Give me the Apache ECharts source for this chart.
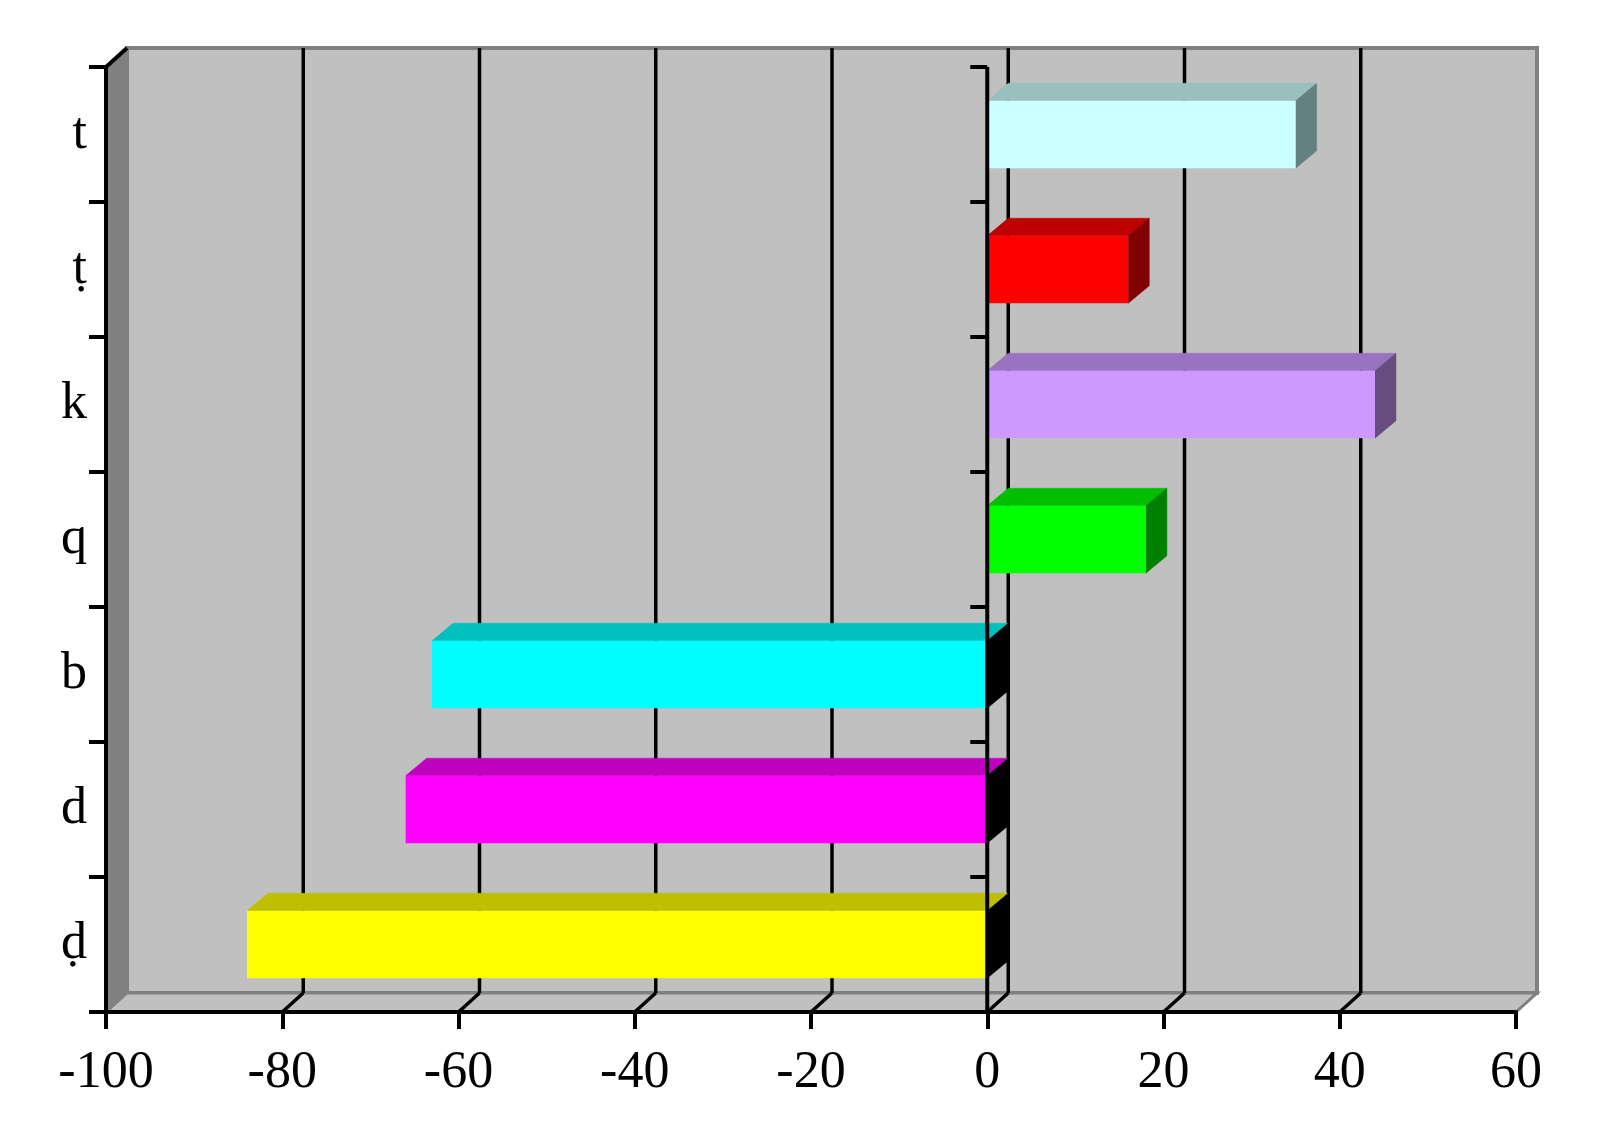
<!DOCTYPE html>
<html>
<head>
<meta charset="utf-8">
<script src="https://cdn.jsdelivr.net/npm/echarts@6/dist/echarts.min.js"></script>
<style>
html,body{margin:0;padding:0;background:#fff;}
#chart{width:1597px;height:1148px;}
</style>
</head>
<body>
<div id="chart"></div>
<script>
// ---- data ----
const categories = ['t', 'ṭ', 'k', 'q', 'b', 'd', 'ḍ'];
const values = [35, 16, 44, 18, -63, -66, -84];
const frontColors = ['#CCFFFF', '#FF0000', '#CC99FF', '#00FF00', '#00FFFF', '#FF00FF', '#FFFF00'];
const xTicks = [-100, -80, -60, -40, -20, 0, 20, 40, 60];

// ---- style constants ----
const DX = 21, DY = -19;      // wall depth offset
const BDX = 21, BDY = -17.5;  // bar depth offset
const FONT = 'Liberation Serif';
const LW = 4;

function shade(hex, f) {
  const n = parseInt(hex.slice(1), 16);
  const r = Math.round(((n >> 16) & 255) * f);
  const g = Math.round(((n >> 8) & 255) * f);
  const b = Math.round((n & 255) * f);
  return 'rgb(' + r + ',' + g + ',' + b + ')';
}

const chart = echarts.init(document.getElementById('chart'), null, {renderer: 'canvas'});

function renderFrame(params, api) {
  const cs = params.coordSys;
  const fL = cs.x, fR = cs.x + cs.width, fT = cs.y, fB = cs.y + cs.height;
  const children = [];
  children.push({type: 'rect', shape: {x: fL + DX, y: fT + DY, width: cs.width, height: cs.height},
    style: {fill: '#C0C0C0', stroke: '#808080', lineWidth: 4}});
  children.push({type: 'polygon', shape: {points: [[fL, fT], [fL + DX, fT + DY], [fL + DX, fB + DY], [fL, fB]]},
    style: {fill: '#808080', stroke: '#808080', lineWidth: 1}});
  children.push({type: 'polygon', shape: {points: [[fL, fB], [fL + DX, fB + DY], [fR + DX, fB + DY], [fR, fB]]},
    style: {fill: '#C0C0C0', stroke: '#808080', lineWidth: 3}});
  const inner = xTicks.slice(1, -1);
  inner.forEach(function (t) {
    const x = api.coord([t, 0])[0];
    children.push({type: 'line', shape: {x1: x + DX, y1: fT + DY, x2: x + DX, y2: fB + DY},
      style: {stroke: '#000', lineWidth: 3.5}});
    children.push({type: 'line', shape: {x1: x, y1: fB, x2: x + DX, y2: fB + DY},
      style: {stroke: '#000', lineWidth: 3.5}});
  });
  return {type: 'group', children: children};
}

function renderBar(params, api) {
  const ci = api.value(0);
  const v = api.value(1);
  const col = frontColors[ci];
  const p0 = api.coord([0, ci]);
  const p1 = api.coord([v, ci]);
  const band = api.size([0, 1])[1];
  const h = band * 0.5;
  const top = p0[1] - h / 2, bot = p0[1] + h / 2;
  const left = Math.min(p0[0], p1[0]), right = Math.max(p0[0], p1[0]);
  const sideColor = v >= 0 ? shade(col, 0.5) : '#000000';
  return {type: 'group', children: [
    {type: 'polygon', shape: {points: [[left, top], [left + BDX, top + BDY], [right + BDX, top + BDY], [right, top]]},
      style: {fill: shade(col, 0.75), stroke: shade(col, 0.75), lineWidth: 0.5}},
    {type: 'polygon', shape: {points: [[right, top], [right + BDX, top + BDY], [right + BDX, bot + BDY], [right, bot]]},
      style: {fill: sideColor, stroke: sideColor, lineWidth: 0.5}},
    {type: 'rect', shape: {x: left, y: top, width: right - left, height: bot - top},
      style: {fill: col}}
  ]};
}

function renderOverlay(params, api) {
  const cs = params.coordSys;
  const fL = cs.x, fT = cs.y, fB = cs.y + cs.height;
  const x0 = api.coord([0, 0])[0];
  const band = api.size([0, 1])[1];
  const children = [];
  children.push({type: 'line', shape: {x1: x0, y1: fT, x2: x0, y2: fB}, style: {stroke: '#000', lineWidth: LW}});
  for (let i = 0; i <= categories.length; i++) {
    const y = fT + i * band;
    children.push({type: 'line', shape: {x1: x0 - 17, y1: y, x2: x0, y2: y}, style: {stroke: '#000', lineWidth: LW}});
  }
  children.push({type: 'line', shape: {x1: fL, y1: fT, x2: fL + DX, y2: fT + DY}, style: {stroke: '#000', lineWidth: LW}});
  return {type: 'group', children: children};
}

const barData = values.map(function (v, i) { return [i, v]; });

const option = {
  animation: false,
  backgroundColor: '#ffffff',
  grid: {left: 106, right: 81, top: 67, bottom: 136, containLabel: false},
  xAxis: {
    type: 'value', min: xTicks[0], max: xTicks[xTicks.length - 1], interval: 20, z: 10,
    axisLine: {show: true, onZero: false, lineStyle: {color: '#000', width: LW}},
    axisTick: {show: true, inside: false, length: 17, lineStyle: {color: '#000', width: LW}},
    axisLabel: {color: '#000', fontFamily: FONT, fontSize: 52, margin: 35},
    splitLine: {show: false}
  },
  yAxis: {
    type: 'category', data: categories, inverse: true, z: 10,
    axisLine: {show: true, onZero: false, lineStyle: {color: '#000', width: LW}},
    axisTick: {show: true, inside: false, length: 17, lineStyle: {color: '#000', width: LW}},
    axisLabel: {color: '#000', fontFamily: FONT, fontSize: 52, margin: 19},
    splitLine: {show: false}
  },
  series: [
    {type: 'custom', name: 'frame', coordinateSystem: 'cartesian2d', clip: false, z: 1, silent: true,
      renderItem: renderFrame, data: [[0, 0]], encode: {x: 1, y: 0}},
    {type: 'custom', name: 'bars', coordinateSystem: 'cartesian2d', clip: false, z: 3,
      renderItem: renderBar, data: barData, encode: {x: 1, y: 0}},
    {type: 'custom', name: 'overlay', coordinateSystem: 'cartesian2d', clip: false, z: 5, silent: true,
      renderItem: renderOverlay, data: [[0, 0]], encode: {x: 1, y: 0}}
  ]
};
chart.setOption(option);
</script>
</body>
</html>
